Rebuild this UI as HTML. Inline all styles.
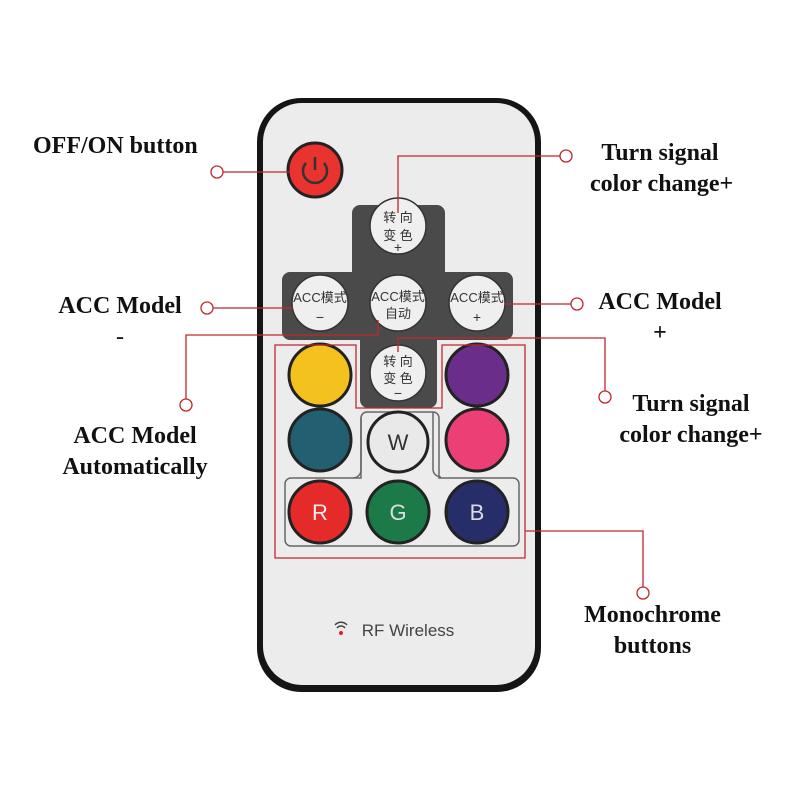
<!DOCTYPE html><html><head><meta charset="utf-8"><style>
body{margin:0;background:#fff}
#c{position:relative;width:800px;height:800px;overflow:hidden;font-family:"Liberation Serif",serif}
.l{position:absolute;font-weight:bold;font-size:24px;color:#111;text-align:center;line-height:31px;white-space:nowrap}
</style></head><body><div id="c">
<svg width="800" height="800" style="position:absolute;left:0;top:0">
<rect x="257" y="98" width="284" height="594" rx="44" fill="#151515"/>
<rect x="263" y="103" width="272" height="582" rx="39" fill="#ececec"/>
<path d="M360 205 h77 a8 8 0 0 1 8 8 v59 h60 a8 8 0 0 1 8 8 v52 a8 8 0 0 1 -8 8 h-68 v60 a8 8 0 0 1 -8 8 h-61 a8 8 0 0 1 -8 -8 v-60 h-70 a8 8 0 0 1 -8 -8 v-52 a8 8 0 0 1 8 -8 h62 v-59 a8 8 0 0 1 8 -8z" fill="#4a4a4a"/>
<path d="M367 412 h66 a6 6 0 0 1 6 6 v60 h74 a6 6 0 0 1 6 6 v56 a6 6 0 0 1 -6 6 h-222 a6 6 0 0 1 -6 -6 v-56 a6 6 0 0 1 6 -6 h70 v-60 a6 6 0 0 1 6 -6z" fill="none" stroke="#666" stroke-width="1.5"/>
<path d="M433 412 v57 a8 8 0 0 0 8 8 M361 418 v52 a8 8 0 0 1 -8 8" fill="none" stroke="#666" stroke-width="1.5"/>
<g stroke="#222" stroke-width="3">
<circle cx="315" cy="170" r="27" fill="#e8332f"/>
<circle cx="320" cy="375" r="31" fill="#f4c21f"/>
<circle cx="477" cy="375" r="31" fill="#6a2e8a"/>
<circle cx="320" cy="440" r="31" fill="#225f70"/>
<circle cx="477" cy="440" r="31" fill="#ec3f75"/>
<circle cx="398" cy="442" r="30" fill="#e9e9e9"/>
<circle cx="320" cy="512" r="31" fill="#e52a2a"/>
<circle cx="398" cy="512" r="31" fill="#1c7a48"/>
<circle cx="477" cy="512" r="31" fill="#272d68"/>
</g>
<g fill="#efefef" stroke="#333" stroke-width="1.5">
<circle cx="398" cy="226" r="28"/><circle cx="320" cy="303" r="28"/><circle cx="398" cy="303" r="28"/><circle cx="477" cy="303" r="28"/><circle cx="398" cy="373" r="28"/>
</g>
<path d="M306 163 a12 12 0 1 0 18 0 M315 157 v13" fill="none" stroke="#333" stroke-width="2.5"/>
<g font-family="Liberation Sans,sans-serif" font-size="22" text-anchor="middle">
<text x="398" y="450" fill="#333">W</text><text x="320" y="520" fill="#eee">R</text><text x="398" y="520" fill="#ddd">G</text><text x="477" y="520" fill="#ddd">B</text>
</g>
<g font-family="Liberation Sans,'Noto Sans CJK SC',sans-serif" font-size="13" fill="#333" text-anchor="middle">
<text x="398" y="222">转 向</text><text x="398" y="240">变 色</text><text x="398" y="252" font-size="14">+</text>
<text x="320" y="302">ACC模式</text><text x="320" y="322" font-size="14">−</text>
<text x="398" y="301">ACC模式</text><text x="398" y="318">自动</text>
<text x="477" y="302">ACC模式</text><text x="477" y="322" font-size="14">+</text>
<text x="398" y="366">转 向</text><text x="398" y="383">变 色</text><text x="398" y="398" font-size="14">−</text>
<text x="408" y="636" font-size="17" fill="#444">RF Wireless</text>
</g>
<path d="M335 625 a8 8 0 0 1 12 0 M337 628 a5 5 0 0 1 8 0" fill="none" stroke="#444" stroke-width="1.5"/><circle cx="341" cy="633" r="2" fill="#d22"/>
<g fill="none" stroke="#c0272d" stroke-width="1.3">
<path d="M223 172 H290"/><circle cx="217" cy="172" r="6" fill="#fff"/>
<path d="M560 156 H398 V213"/><circle cx="566" cy="156" r="6" fill="#fff"/>
<path d="M213 308 H293"/><circle cx="207" cy="308" r="6" fill="#fff"/>
<path d="M571 304 H505"/><circle cx="577" cy="304" r="6" fill="#fff"/>
<path d="M378 320 V335 H186 V399"/><circle cx="186" cy="405" r="6" fill="#fff"/>
<path d="M398 352 V338 H605 V391"/><circle cx="605" cy="397" r="6" fill="#fff"/>
<path d="M525 531 H643 V587"/><circle cx="643" cy="593" r="6" fill="#fff"/>
<path d="M275 345 H356 V408 H442 V345 H525 V558 H275 Z"/>
</g>
</svg>
<div class="l" style="left:33px;top:131px">OFF/ON button</div>
<div class="l" style="left:590px;top:138px;width:140px">Turn signal<br>color change+</div>
<div class="l" style="left:50px;top:291px;width:140px">ACC Model<br><span style="font-weight:normal">-</span></div>
<div class="l" style="left:590px;top:287px;width:140px">ACC Model<br>+</div>
<div class="l" style="left:50px;top:421px;width:170px">ACC Model<br>Automatically</div>
<div class="l" style="left:606px;top:389px;width:170px">Turn signal<br>color change+</div>
<div class="l" style="left:570px;top:600px;width:165px">Monochrome<br>buttons</div>
</div></body></html>
